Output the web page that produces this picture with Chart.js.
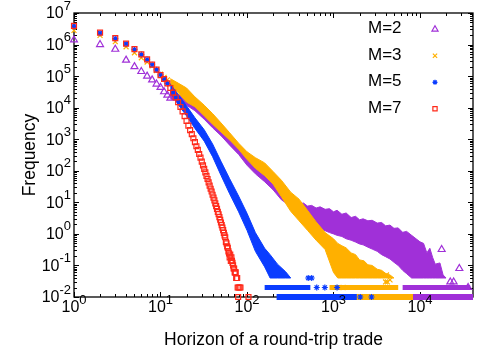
<!DOCTYPE html>
<html>
<head>
<meta charset="utf-8">
<script src="https://cdn.jsdelivr.net/npm/chart.js@4.4.0/dist/chart.umd.min.js"></script>
<style>
  html, body { margin: 0; padding: 0; background: #fff; }
  canvas { display: block; }
</style>
</head>
<body>
<canvas id="myChart" width="498" height="350"></canvas>
<script>
// --------------------------DATA--------------------------

var seriesNames = ["M=2", "M=3", "M=5", "M=7"];
var xTickExp = [0, 1, 2, 3, 4];
var yTickExp = [-2, -1, 0, 1, 2, 3, 4, 5, 6, 7];

// M=2 : separate markers (short horizons + stray points in the tail)
var m2X = [1, 2, 3, 4, 5, 6, 7, 8, 9, 10, 11, 12, 13, 17800, 22400, 24500, 28500, 36000];
var m2Y = [1.4e6, 1.0e6, 7.1e5, 3.2e5, 2.0e5, 1.4e5, 1.0e5, 7.6e4, 5.6e4, 4.4e4, 3.2e4, 2.5e4, 2.0e4, 0.32, 0.03, 0.03, 0.08, 0.02];
// M=2 : dense cloud, upper and lower edge
var m2BandX = [13, 16, 20, 25, 32, 40, 50, 63, 80, 100, 125, 160, 200, 250,
  320, 400, 450, 500, 560, 630, 700, 800, 900, 1000,
  1100, 1250, 1400, 1600, 1800, 2000, 2200, 2500, 2800, 3200,
  3600, 4000, 4500, 5000, 5600, 6300, 7000, 8000, 9000, 10000,
  11000, 12000, 13000, 14000, 15000, 17000, 18500, 20000];
var m2BandHi = [3.0e4, 2.6e4, 2.0e4, 1.3e4, 7.0e3, 4.0e3, 2.3e3, 1.2e3, 560, 300, 170, 100, 55, 28,
  12.6, 8.9, 9.5, 7.6, 8.0, 6.6, 7.2, 6.0, 6.3, 5.0,
  5.6, 4.2, 4.6, 3.3, 3.6, 2.8, 3.0, 2.6, 2.7, 2.2,
  2.3, 1.8, 1.9, 1.5, 1.55, 1.12, 1.2, 0.9, 0.7, 0.56,
  0.5, 0.25, 0.35, 0.18, 0.11, 0.12, 0.05, 0.04];
var m2BandLo = [1.9e4, 1.6e4, 1.2e4, 8.0e3, 4.3e3, 2.3e3, 1.3e3, 650, 330, 150, 80, 45, 25, 12,
  7.6, 4.0, 3.4, 2.6, 2.2, 1.8, 1.5, 1.26, 1.1, 1.0,
  0.9, 0.83, 0.7, 0.63, 0.55, 0.48, 0.45, 0.38, 0.33, 0.28,
  0.22, 0.19, 0.16, 0.126, 0.1, 0.07, 0.055, 0.04, 0.04, 0.04,
  0.04, 0.04, 0.04, 0.04, 0.04, 0.04, 0.04, 0.04];
var m2Row002 = [6300, 38000];   // horizons sitting on the 0.02 level
var m2Row001 = [250, 41000];    // horizons sitting on the 0.01 level

// M=3
var m3X = [1, 2, 3, 4, 5, 6, 7, 8, 9, 10, 11, 12, 1290, 4000, 4100, 4200, 4500];
var m3Y = [2.8e6, 1.95e6, 1.23e6, 8.5e5, 5.5e5, 3.8e5, 2.8e5, 2.1e5, 1.5e5, 1.15e5, 9.1e4, 7.6e4, 0.02, 0.03, 0.05, 0.03, 0.035];
var m3BandX = [13, 16, 20, 25, 32, 40, 50, 63, 80, 100,
  125, 160, 200, 250, 320, 400, 500, 630, 800, 1000,
  1120, 1250, 1400, 1600, 1800, 2000, 2250, 2500, 2800, 3200,
  3600, 4000, 4500, 5000];
var m3BandHi = [8.3e4, 6.0e4, 4.2e4, 2.2e4, 1.2e4, 6.5e3, 3.3e3, 1.6e3, 750, 400,
  260, 178, 95, 50, 21, 12.6, 5.6, 2.4, 1.1, 0.7,
  0.5, 0.42, 0.36, 0.25, 0.22, 0.15, 0.14, 0.105, 0.1, 0.076,
  0.07, 0.056, 0.05, 0.04];
var m3BandLo = [5.0e4, 3.0e4, 1.5e4, 1.07e4, 5.5e3, 3.0e3, 1.7e3, 950, 480, 230,
  120, 70, 38, 15, 5.2, 2.6, 1.3, 0.63, 0.32, 0.06,
  0.04, 0.04, 0.04, 0.04, 0.04, 0.04, 0.04, 0.04, 0.04, 0.04,
  0.04, 0.04, 0.04, 0.04];
var m3Row002 = [900, 5600];
var m3Row001 = [250, 8300];

// M=5
var m5X = [1, 2, 3, 4, 5, 6, 7, 8, 9, 10, 11, 12, 510, 560, 640, 794, 1100, 2040, 2750];
var m5Y = [3.7e6, 2.3e6, 1.55e6, 1.05e6, 7.0e5, 4.8e5, 3.35e5, 2.3e5, 1.58e5, 1.1e5, 7.9e4, 5.8e4, 0.04, 0.04, 0.02, 0.02, 0.02, 0.01, 0.01];
var m5BandX = [13, 16, 20, 25, 32, 40, 50, 63, 80, 100, 125, 160, 185, 225, 280, 320];
var m5BandHi = [5.6e4, 2.6e4, 1.15e4, 4.8e3, 2.0e3, 710, 200, 56, 15.8, 4.5, 1.1, 0.35, 0.22, 0.11, 0.063, 0.04];
var m5BandLo = [3.0e4, 1.26e4, 5.5e3, 2.2e3, 870, 280, 72, 18.6, 5.0, 1.3, 0.28, 0.09, 0.04, 0.04, 0.04, 0.04];
var m5Row002 = [160, 540];
var m5Row001 = [220, 1860];

// M=7 : one marker per horizon
var m7X = [1, 2, 3, 4, 5, 6, 7, 8, 9, 10, 11, 12, 13, 14, 15, 16, 17, 18, 19, 20,
  21, 22, 23, 24, 25, 26, 27, 28, 29, 30, 31, 32, 33, 34, 35, 36, 37, 38, 39, 40,
  41, 42, 43, 44, 45, 46, 47, 48, 49, 50, 51, 52, 53, 54, 55, 56, 57, 58, 59, 60,
  61, 62, 63, 64, 65, 66, 67, 68, 69, 70, 71, 72, 73, 74, 75, 76, 77, 78, 80, 82,
  84, 79, 104];
var m7Y = [3.9e6, 2.4e6, 1.6e6, 1.07e6, 7.2e5, 4.9e5, 3.4e5, 2.3e5, 1.6e5, 1.07e5,
  8.1e4, 5.9e4, 4.2e4, 3.0e4, 2.1e4, 1.5e4, 1.05e4, 7.6e3, 5.4e3, 3.8e3,
  2.7e3, 1.95e3, 1.45e3, 1.07e3, 810, 600, 460, 340, 260, 195,
  148, 115, 89, 69, 55, 43, 34, 27, 22, 17.4,
  14.1, 11.5, 9.3, 7.6, 6.2, 5.0, 4.2, 3.4, 2.8, 2.3,
  1.9, 1.58, 1.32, 1.08, 0.9, 0.78, 0.56, 0.5, 0.4, 0.36,
  0.28, 0.24, 0.18, 0.22, 0.14, 0.18, 0.14, 0.12, 0.1, 0.08,
  0.08, 0.06, 0.06, 0.06, 0.04, 0.04, 0.04, 0.02, 0.02, 0.02,
  0.02, 0.01, 0.01];

// --------------------------STYLE--------------------------
var colors = ["#a030d8", "#ffb000", "#0a3cff", "#ff2a1a"];
var styles = ["triangle", "crossRot", "star", "rect"];
var radii = [4, 3.5, 3, 3.5];
var FONT = '"Liberation Sans", Arial, Helvetica, sans-serif';

function pts(xs, ys) {
  return xs.map(function (x, i) { return { x: x, y: ys[i] }; });
}
function band(xs, hi, lo) {
  return pts(xs, hi).concat(pts(xs, lo).reverse());
}
function row(range, y) {
  return [{ x: range[0], y: y }, { x: range[1], y: y }];
}

var series = [
  { mx: m2X, my: m2Y, bx: m2BandX, hi: m2BandHi, lo: m2BandLo, r2: m2Row002, r1: m2Row001 },
  { mx: m3X, my: m3Y, bx: m3BandX, hi: m3BandHi, lo: m3BandLo, r2: m3Row002, r1: m3Row001 },
  { mx: m5X, my: m5Y, bx: m5BandX, hi: m5BandHi, lo: m5BandLo, r2: m5Row002, r1: m5Row001 },
  { mx: m7X, my: m7Y }
];

var datasets = [];
series.forEach(function (s, i) {
  var col = colors[i];
  var ord = 4 - i;   // M=2 at the bottom, M=7 on top
  datasets.push({
    type: "scatter",
    label: seriesNames[i],
    data: pts(s.mx, s.my),
    pointStyle: styles[i],
    pointRadius: radii[i],
    pointBorderWidth: 1.2,
    pointBorderColor: col,
    pointBackgroundColor: "rgba(0,0,0,0)",
    order: ord,
    clip: false
  });
  if (s.bx) {
    datasets.push({
      type: "line",
      data: band(s.bx, s.hi, s.lo),
      borderColor: col,
      backgroundColor: col,
      borderWidth: 1,
      pointRadius: 0,
      tension: 0,
      fill: "shape",
      order: ord,
      clip: false
    });
    datasets.push({
      type: "line",
      data: row(s.r2, 0.02),
      borderColor: col,
      borderWidth: 5,
      borderCapStyle: "butt",
      pointRadius: 0,
      fill: false,
      order: ord,
      clip: false
    });
    datasets.push({
      type: "line",
      data: row(s.r1, 0.01),
      borderColor: col,
      borderWidth: 6,
      borderCapStyle: "butt",
      pointRadius: 0,
      fill: false,
      order: ord,
      clip: false
    });
  }
});

// -------------------------frame, ticks, labels, legend-------------------------
function powLabel(ctx, e, x, y, align) {
  ctx.font = "16px " + FONT;
  var w1 = ctx.measureText("10").width;
  ctx.font = "13px " + FONT;
  var w2 = ctx.measureText(String(e)).width;
  var left = align === "right" ? x - w1 - w2 : x - (w1 + w2) / 2;
  ctx.textAlign = "left";
  ctx.textBaseline = "middle";
  ctx.font = "16px " + FONT;
  ctx.fillText("10", left, y);
  ctx.font = "13px " + FONT;
  ctx.fillText(String(e), left + w1, y - 8);
}

var framePlugin = {
  id: "frame",
  beforeDatasetsDraw: function (chart) {
    var ctx = chart.ctx, a = chart.chartArea;
    var xs = chart.scales.x, ys = chart.scales.y;
    ctx.save();
    ctx.strokeStyle = "#000";
    ctx.lineWidth = 1;
    ctx.beginPath();
    for (var e = 0; e <= 4; e++) {
      for (var k = 1; k <= 9; k++) {
        var v = k * Math.pow(10, e);
        if (v > xs.max) break;
        var px = Math.round(xs.getPixelForValue(v)) + 0.5;
        var len = k === 1 ? 5 : 3;
        ctx.moveTo(px, a.bottom); ctx.lineTo(px, a.bottom - len);
        ctx.moveTo(px, a.top); ctx.lineTo(px, a.top + len);
      }
    }
    for (var e2 = -2; e2 <= 7; e2++) {
      for (var k2 = 1; k2 <= 9; k2++) {
        var v2 = k2 * Math.pow(10, e2);
        if (v2 > ys.max) break;
        var py = Math.round(ys.getPixelForValue(v2)) + 0.5;
        var len2 = k2 === 1 ? 5 : 3;
        ctx.moveTo(a.left, py); ctx.lineTo(a.left + len2, py);
        ctx.moveTo(a.right, py); ctx.lineTo(a.right - len2, py);
      }
    }
    ctx.stroke();
    ctx.lineWidth = 1.3;
    ctx.strokeRect(a.left, a.top, a.right - a.left, a.bottom - a.top);
    ctx.restore();
  },
  afterDraw: function (chart) {
    var ctx = chart.ctx, a = chart.chartArea;
    var xs = chart.scales.x, ys = chart.scales.y;
    ctx.save();
    ctx.fillStyle = "#000";
    xTickExp.forEach(function (e) {
      powLabel(ctx, e, xs.getPixelForValue(Math.pow(10, e)), a.bottom + 11, "center");
    });
    yTickExp.forEach(function (e) {
      powLabel(ctx, e, a.left - 3, ys.getPixelForValue(Math.pow(10, e)) + 1, "right");
    });
    // axis titles
    ctx.font = "17.5px " + FONT;
    ctx.textAlign = "center";
    ctx.textBaseline = "middle";
    ctx.fillText("Horizon of a round-trip trade", (a.left + a.right) / 2, 340);
    ctx.save();
    ctx.translate(30, (a.top + a.bottom) / 2);
    ctx.rotate(-Math.PI / 2);
    ctx.fillText("Frequency", 0, 0);
    ctx.restore();
    // legend: label on the left, marker on the right
    ctx.font = "17px " + FONT;
    ctx.textAlign = "left";
    seriesNames.forEach(function (name, i) {
      var y = 28.5 + i * 26.5;
      ctx.fillStyle = "#000";
      ctx.fillText(name, 368, y);
      ctx.strokeStyle = colors[i];
      ctx.fillStyle = "rgba(0,0,0,0)";
      ctx.lineWidth = 1.2;
      Chart.helpers.drawPoint(ctx, { pointStyle: styles[i], radius: radii[i] - 0.5, rotation: 0, borderWidth: 1.2 }, 435, y + 0.8);
    });
    ctx.restore();
  }
};

new Chart("myChart", {
  type: "scatter",
  data: { datasets: datasets },
  options: {
    responsive: false,
    animation: false,
    events: [],
    layout: { padding: { left: 74, right: 25, top: 13, bottom: 53 } },
    scales: {
      x: { type: "logarithmic", min: 1, max: 41000, display: false },
      y: { type: "logarithmic", min: 0.01, max: 1e7, display: false }
    },
    plugins: {
      legend: { display: false },
      tooltip: { enabled: false }
    }
  },
  plugins: [framePlugin]
});
</script>
</body>
</html>
